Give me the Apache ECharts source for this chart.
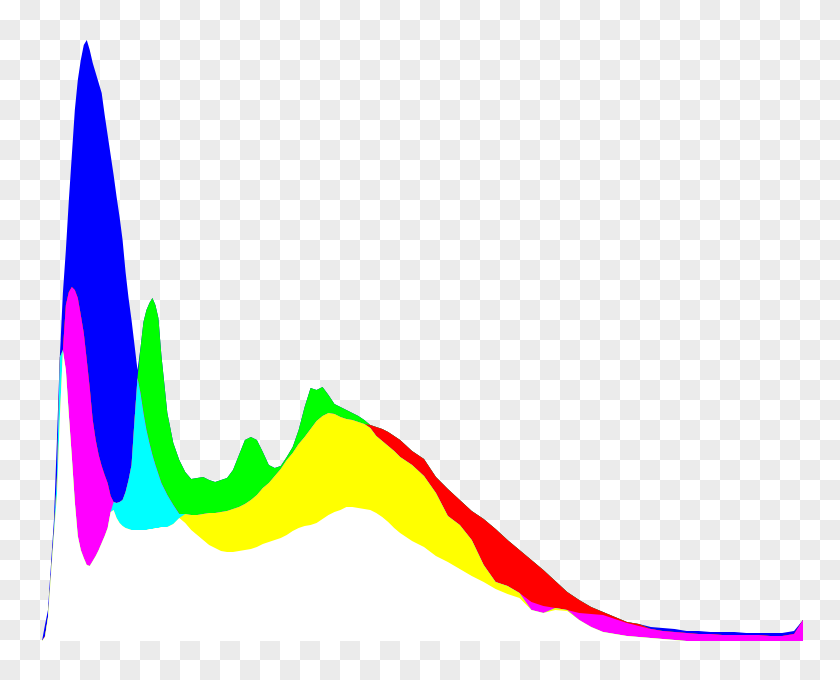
<!DOCTYPE html>
<html>
<head>
<meta charset="utf-8">
<script src="https://cdn.jsdelivr.net/npm/echarts@6/dist/echarts.min.js"></script>
<style>
html,body{margin:0;padding:0;background:#fff;}
#chart{width:840px;height:680px;
  background:repeating-conic-gradient(#ebebeb 0% 25%, #ffffff 0% 50%) 0 0/40px 40px;
}
</style>
</head>
<body>
<div id="chart"></div>
<script>
// Intensity levels (x positions of the histogram samples)
const levels = [0,1,2,3,4,5,6,7,8,9,10,11,12,13,14,15,16,17,18,19,20,21,22,23,24,25,26,27,28,29,30,31,32,33,34,35,36,37,38,39,40,
  42,44,46,48,50,52,54,56,58,60,62,64,66,68,70,72,74,76,78,80,82,84,86,88,90,92,94,96,98,100,102,104,106,108,110,112,114,116,118,120,
  124,128,132,136,140,144,148,152,156,160,164,168,172,176,180,184,188,192,196,200,204,208,212,216,220,224,228,232,236,240,244,248,252,255];

// Histogram counts per channel (relative heights)
const red = [0,5,23,66,106,146,225,290,336,349,354,351,343,326,308,281,253,221,201,186,175,166,158,145,131,123,118,115,113,112,111,111,111,111,111,111,112,112,113,113,114,
  114,117,123,127,126,126,127,128,128,129,130,132,134,137,141,146,153,158,165,172,181,188,197,204,212,220,225,228,227,224,222,221,219,217,216,214,212,209,205,201,
  190,182,164,152,141,130,122,112,101,91,81,71,60,49,41,34,29,24,19,17,12,10,9,8,7,7,6,6,6,6,5,5,7,21];

const green = [0,4,24,67,111,163,284,291,271,226,184,139,105,91,83,76,75,80,85,91,98,105,113,129,139,138,139,141,149,161,176,221,263,293,319,331,338,343,336,323,286,
  228,198,181,169,162,163,164,161,159,161,163,171,186,201,204,201,189,176,173,175,184,194,211,234,253,251,254,246,237,234,231,228,225,221,213,205,200,195,190,184,
  176,165,148,125,116,101,76,59,55,48,31,28,33,31,21,14,9,7,5,4,3,2,1,0,0,0,0,0,0,0,0,0,0,2];

const blue = [0,16,31,76,121,201,286,348,391,441,486,531,561,581,596,601,591,578,568,558,548,526,506,486,466,444,424,401,369,343,321,296,271,248,228,211,198,186,176,167,158,
  146,136,127,118,111,106,101,96,93,90,89,89,90,91,92,94,97,99,101,103,106,110,113,115,116,118,122,126,129,131,134,134,133,132,131,128,124,119,113,108,
  100,94,85,79,72,65,59,52,47,43,39,35,31,30,28,27,26,22,18,15,14,13,12,10,10,9,9,9,8,8,8,8,10,21];

// Additive RGB overlap colours
const layerOrder = ['white','yellow','cyan','magenta','red','green','blue'];
const layerColor = {white:'#ffffff',yellow:'#ffff00',cyan:'#00ffff',magenta:'#ff00ff',red:'#ff0000',green:'#00ff00',blue:'#0000ff'};
const pairOf = {blue:'yellow', red:'cyan', green:'magenta'}; // keyed by the lowest channel

const layers = {};
layerOrder.forEach(n => layers[n] = []);
levels.forEach((lv, i) => {
  const ch = [{k:'red',v:red[i]},{k:'green',v:green[i]},{k:'blue',v:blue[i]}].sort((a,b)=>a.v-b.v);
  const lo = ch[0], mid = ch[1], hi = ch[2];
  const pair = pairOf[lo.k];
  layerOrder.forEach(n => {
    let v = 0;
    if (n === 'white') v = lo.v;
    else if (n === pair) v = mid.v - lo.v;
    else if (n === hi.k) v = hi.v - mid.v;
    layers[n].push(v);
  });
});
// cumulative tops of each layer
const cum = {};
let running = levels.map(() => 0);
layerOrder.forEach(n => {
  running = running.map((s, i) => s + layers[n][i]);
  cum[n] = running.slice();
});

const series = layerOrder.slice().reverse().map(n => ({
  name: n,
  type: 'line',
  data: levels.map((lv, i) => [lv, cum[n][i]]),
  symbol: 'none',
  showSymbol: false,
  silent: true,
  lineStyle: {width: 0, opacity: 0},
  areaStyle: {color: layerColor[n], opacity: 1, origin: 'start'}
}));

const chart = echarts.init(document.getElementById('chart'), null, {renderer: 'canvas'});
chart.setOption({
  animation: false,
  backgroundColor: 'transparent',
  grid: {left: 42, right: 37, top: 0, bottom: 39, containLabel: false},
  xAxis: {type: 'value', min: 0, max: 255, show: false},
  yAxis: {type: 'value', min: 0, max: 641, show: false},
  series: series
});
</script>
</body>
</html>
